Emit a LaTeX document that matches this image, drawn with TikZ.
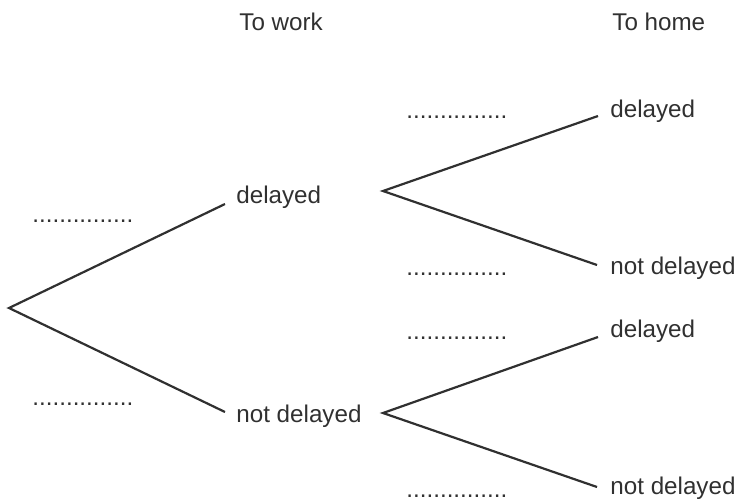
\documentclass[tikz,border=0pt]{standalone}
\usepackage{fontspec}
\setmainfont{Liberation Sans}
\usepackage{xcolor}
\usetikzlibrary{positioning}
\definecolor{ink}{HTML}{303030}

\begin{document}
\begin{tikzpicture}[
  x=0.5pt, y=-0.5pt,
  lbl/.style={anchor=base west, inner sep=0pt, text=ink,
    font=\fontsize{12.1}{14}\selectfont},
  blank/.style={lbl},
  branch/.style={draw=ink, line width=1.1pt}
]
  \useasboundingbox (0,0) rectangle (738,503);

  \node[lbl] (hwork) at (239,30) {To work};
  \node[lbl] (hhome) at (612,30) {To home};

  % first stage
  \coordinate (root) at (9,308);
  \coordinate (d1) at (225,204);
  \coordinate (n1) at (225,412);
  \node[lbl] (d1l) at (236,203) {delayed};
  \node[lbl] (n1l) at (236,422) {not delayed};
  \node[blank] (p1) at (32,222) {...............};
  \node[blank] (p2) at (32,405) {...............};

  % second stage
  \coordinate (s1) at (383,191);
  \coordinate (s2) at (383,413);
  \coordinate (dd) at (598,116);
  \coordinate (dn) at (597,265);
  \coordinate (nd) at (598,337);
  \coordinate (nn) at (597,487);
  \node[lbl] (ddl) at (610,117) {delayed};
  \node[lbl] (dnl) at (610,274) {not delayed};
  \node[lbl] (ndl) at (610,337) {delayed};
  \node[lbl] (nnl) at (610,494) {not delayed};
  \node[blank] (p3) at (406,118) {...............};
  \node[blank] (p4) at (406,275) {...............};
  \node[blank] (p5) at (406,339) {...............};
  \node[blank] (p6) at (406,497) {...............};

  \draw[branch] (d1) -- (root) -- (n1);
  \draw[branch] (dd) -- (s1) -- (dn);
  \draw[branch] (nd) -- (s2) -- (nn);
\end{tikzpicture}
\end{document}
